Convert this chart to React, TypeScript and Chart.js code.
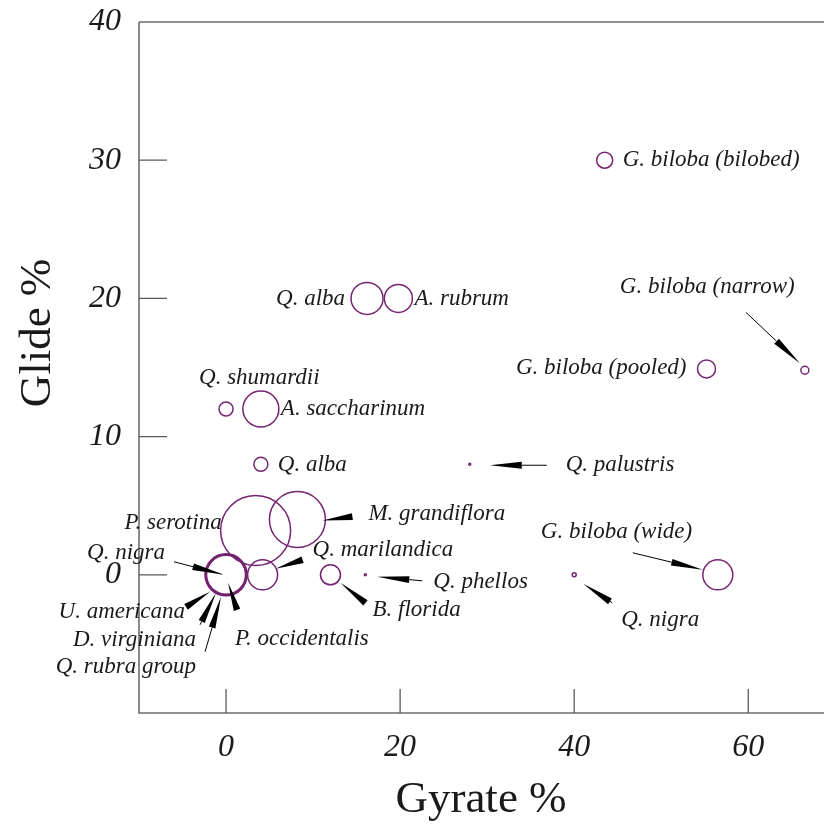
import { useEffect, useRef } from "react";
import { Chart, registerables } from "chart.js";

Chart.register(...registerables);

// Leaf shape datasets: gyration vs. glide percentages, bubble size ~ sample weight
const species = [
  "G. biloba (bilobed)",
  "Q. alba",
  "A. rubrum",
  "G. biloba (narrow)",
  "G. biloba (pooled)",
  "Q. shumardii",
  "A. saccharinum",
  "Q. alba",
  "Q. palustris",
  "P. serotina",
  "M. grandiflora",
  "Q. marilandica",
  "B. florida",
  "Q. phellos",
  "Q. nigra",
  "G. biloba (wide)",
  "Q. nigra",
  "U. americana",
  "D. virginiana",
  "Q. rubra group",
  "P. occidentalis",
];
const gyrate = [43.5, 16.2, 19.8, 66.5, 55.2, 0, 4, 4, 28, 3.4, 8.2, 4.2, 12, 16, 40, 56.5, 0, 0, 0, 0, 0];
const glide = [30, 20, 20, 14.8, 14.9, 12, 12, 8, 8, 3.2, 4, 0, 0, 0, 0, 0, 0, 0, 0, 0, 0];
const bubbleSize = [8, 16, 14, 4, 9, 7, 18, 7, 1, 35, 28, 15, 10, 1, 2, 15, 20, 19.5, 21, 20.5, 20];

const xTickValues = [0, 20, 40, 60];
const yTickValues = [0, 10, 20, 30, 40];

// Label placement, in pixels relative to each bubble centre.
// arrow = [tailDx, tailDy, tipDx, tipDy]
type Note = { dx: number; dy: number; align: CanvasTextAlign; arrow?: [number, number, number, number] };
const notes: Note[] = [
  { dx: 18, dy: 0, align: "left" },
  { dx: -22, dy: 1, align: "right" },
  { dx: 16, dy: 1, align: "left" },
  { dx: -185, dy: -83, align: "left", arrow: [-59, -58, -5, -7] },
  { dx: -20, dy: -1, align: "right" },
  { dx: -27, dy: -31, align: "left" },
  { dx: 20, dy: 0, align: "left" },
  { dx: 17, dy: 1, align: "left" },
  { dx: 96, dy: 1, align: "left", arrow: [77, 1, 20, 1] },
  { dx: -34, dy: -8, align: "right" },
  { dx: 71, dy: -6, align: "left", arrow: [55, -3, 25, 1] },
  { dx: 50, dy: -25, align: "left", arrow: [40, -15, 13, -6] },
  { dx: 42, dy: 35, align: "left", arrow: [35, 28, 10, 8] },
  { dx: 68, dy: 7, align: "left", arrow: [57, 6, 12, 2] },
  { dx: 47, dy: 45, align: "left", arrow: [38, 28, 9, 9] },
  { dx: -177, dy: -43, align: "left", arrow: [-85, -22, -15, -5] },
  { dx: -61, dy: -22, align: "right", arrow: [-52, -13, -2, 0] },
  { dx: -41, dy: 37, align: "right", arrow: [-40, 32, -16, 17] },
  { dx: -30, dy: 65, align: "right", arrow: [-26, 50, -10, 18] },
  { dx: -30, dy: 92, align: "right", arrow: [-21, 77, -5, 22] },
  { dx: 9, dy: 64, align: "left", arrow: [11, 35, 2, 8] },
];

const SERIF = '"Liberation Serif", "Times New Roman", serif';
const BUBBLE_COLOR = "#742470";
const AXIS_COLOR = "#6e6e6e";
const TEXT_COLOR = "#1a1a1a";

function drawArrow(ctx: CanvasRenderingContext2D, x1: number, y1: number, x2: number, y2: number) {
  const len = Math.hypot(x2 - x1, y2 - y1);
  if (len < 1) return;
  const ux = (x2 - x1) / len;
  const uy = (y2 - y1) / len;
  const head = Math.min(32, len);
  const hw = 3.4;
  const bx = x2 - ux * head;
  const by = y2 - uy * head;
  ctx.save();
  ctx.strokeStyle = "#000";
  ctx.fillStyle = "#000";
  if (len > head) {
    ctx.lineWidth = 1;
    ctx.beginPath();
    ctx.moveTo(x1, y1);
    ctx.lineTo(bx, by);
    ctx.stroke();
  }
  ctx.beginPath();
  ctx.moveTo(x2, y2);
  ctx.lineTo(bx - uy * hw, by + ux * hw);
  ctx.lineTo(bx + uy * hw, by - ux * hw);
  ctx.closePath();
  ctx.fill();
  ctx.restore();
}

const framePlugin = {
  id: "frame",
  afterDatasetsDraw(chart: any) {
    const { ctx, chartArea } = chart;
    const xs = chart.scales.x;
    const ys = chart.scales.y;
    const { left, right, top, bottom } = chartArea;
    ctx.save();
    // axis lines: left, bottom, top
    ctx.strokeStyle = AXIS_COLOR;
    ctx.lineWidth = 1.6;
    ctx.beginPath();
    ctx.moveTo(left, top);
    ctx.lineTo(left, bottom);
    ctx.lineTo(right, bottom);
    ctx.moveTo(left, top);
    ctx.lineTo(right, top);
    ctx.stroke();
    // inward tick marks
    ctx.lineWidth = 1.3;
    ctx.strokeStyle = "#5a5a5a";
    ctx.beginPath();
    xTickValues.forEach((v) => {
      const px = xs.getPixelForValue(v);
      ctx.moveTo(px, bottom);
      ctx.lineTo(px, bottom - 24);
    });
    yTickValues.forEach((v) => {
      if (v === 40) return;
      const py = ys.getPixelForValue(v);
      ctx.moveTo(left, py);
      ctx.lineTo(left + 28, py);
    });
    ctx.stroke();

    // species labels and pointer arrows
    ctx.font = `italic 23px ${SERIF}`;
    ctx.fillStyle = TEXT_COLOR;
    ctx.textBaseline = "middle";
    species.forEach((name, i) => {
      const n = notes[i];
      const cx = xs.getPixelForValue(gyrate[i]);
      const cy = ys.getPixelForValue(glide[i]);
      if (n.arrow) {
        const [tx, ty, hx, hy] = n.arrow;
        drawArrow(ctx, cx + tx, cy + ty, cx + hx, cy + hy);
      }
      ctx.textAlign = n.align;
      ctx.fillText(name, cx + n.dx, cy + n.dy);
    });

    // axis titles
    ctx.font = `45px ${SERIF}`;
    ctx.textAlign = "center";
    ctx.textBaseline = "middle";
    ctx.fillText("Gyrate %", 481, 800);
    ctx.translate(38, 333);
    ctx.rotate(-Math.PI / 2);
    ctx.fillText("Glide %", 0, 0);
    ctx.restore();
  },
};

export default function App() {
  const canvasRef = useRef<HTMLCanvasElement | null>(null);

  useEffect(() => {
    const canvas = canvasRef.current;
    if (!canvas) return;
    const points = gyrate.map((x, i) => ({ x, y: glide[i], r: bubbleSize[i] }));
    const tickFont = { family: SERIF, size: 32, style: "italic" as const };
    const chart = new Chart(canvas, {
      type: "bubble",
      data: {
        datasets: [
          {
            data: points,
            backgroundColor: "rgba(0,0,0,0)",
            borderColor: BUBBLE_COLOR,
            borderWidth: 1.5,
            hoverRadius: 0,
            hoverBorderWidth: 1.5,
          },
        ],
      },
      options: {
        responsive: false,
        animation: false,
        events: [],
        layout: { autoPadding: false, padding: { top: 22, right: 0, bottom: 0, left: 0 } },
        plugins: { legend: { display: false }, tooltip: { enabled: false } },
        scales: {
          x: {
            type: "linear",
            min: -10,
            max: 68.7,
            grid: { display: false, drawTicks: false },
            border: { display: false },
            afterBuildTicks: (scale: any) => {
              scale.ticks = xTickValues.map((value) => ({ value }));
            },
            afterFit: (scale: any) => {
              scale.height = 112;
            },
            ticks: { font: tickFont, color: TEXT_COLOR, padding: 15, maxRotation: 0 },
          },
          y: {
            type: "linear",
            min: -10,
            max: 40,
            grid: { display: false, drawTicks: false },
            border: { display: false },
            afterBuildTicks: (scale: any) => {
              scale.ticks = yTickValues.map((value) => ({ value }));
            },
            afterFit: (scale: any) => {
              scale.width = 139;
              scale.paddingTop = 0;
              scale.paddingBottom = 0;
            },
            ticks: { font: tickFont, color: TEXT_COLOR, padding: 18 },
          },
        },
      },
      plugins: [framePlugin],
    });
    return () => chart.destroy();
  }, []);

  return (
    <div style={{ position: "absolute", left: 0, top: 0, width: 824, height: 825, background: "#fff" }}>
      <canvas ref={canvasRef} width={824} height={825} style={{ display: "block" }} />
    </div>
  );
}
